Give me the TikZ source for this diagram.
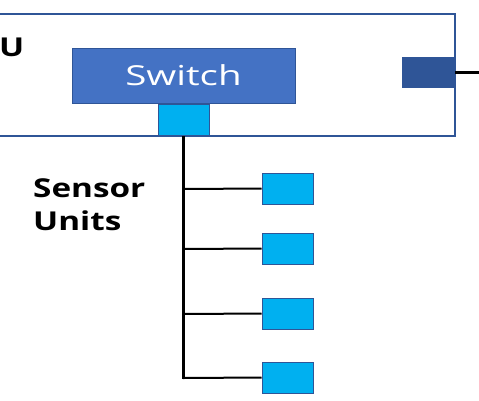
\documentclass[tikz,border=0pt]{standalone}
\usepackage{fontspec}
\usepackage{graphicx}
\setmainfont{Open Sans}
\newcommand{\wideA}[1]{\scalebox{1.28}[1]{#1}}
\newcommand{\wideB}[1]{\scalebox{1.40}[1]{#1}}
\begin{document}
\begin{tikzpicture}[x=1pt,y=-1pt,
  frame/.style={draw=ecuBorder,line width=2pt},
  switchbox/.style={draw=ecuBorder,fill=switchFill,line width=1pt,minimum width=223pt,minimum height=55pt,inner sep=0pt,text=white,font=\fontsize{27.5}{30}\selectfont},
  port/.style={draw=ecuBorder,fill=portFill,line width=1pt,minimum width=51pt,minimum height=31pt,inner sep=0pt},
  extport/.style={fill=ecuBorder,minimum width=53pt,minimum height=31pt,inner sep=0pt},
  bus/.style={line width=3pt,black},
  branch/.style={line width=2pt,black},
  lbl/.style={font=\bfseries\fontsize{26}{33}\selectfont,align=left,inner sep=0pt}
]
\definecolor{ecuBorder}{HTML}{2F5597}
\definecolor{switchFill}{HTML}{4472C4}
\definecolor{portFill}{HTML}{00B0F0}
\useasboundingbox (0,0) rectangle (479,400);
% ECU frame
\draw[frame] (-10,14) rectangle (455,136);
\node[lbl,anchor=base west] (ecu) at (-1,56) {\wideA{U}};
% Switch
\node[switchbox] (sw) at (183.5,75.5) {\wideB{Switch}};
\node[port] (swport) at (184,120) {};
% external port
\node[extport,anchor=east] (ext) at (455,72.5) {};
\coordinate (extend) at (479,72.5);
\draw[bus] (ext.east) -- (extend);
% sensor units
\node[port] (s1) at (287.5,188.5) {};
\node[port] (s2) at (287.5,248.5) {};
\node[port] (s3) at (287.5,313.5) {};
\node[port] (s4) at (287.5,377.5) {};
\coordinate (busend) at (183,379);
\draw[bus] (swport.south -| busend) -- (busend);
\draw[branch] (183,189) -- (s1.west);
\draw[branch] (183,249) -- (s2.west);
\draw[branch] (183,314) -- (s3.west);
\draw[branch] (183,378) -- (s4.west);
\node[lbl,anchor=base west] (lab) at (33,230) {\wideA{Sensor}\\\wideA{Units}};
\end{tikzpicture}
\end{document}
